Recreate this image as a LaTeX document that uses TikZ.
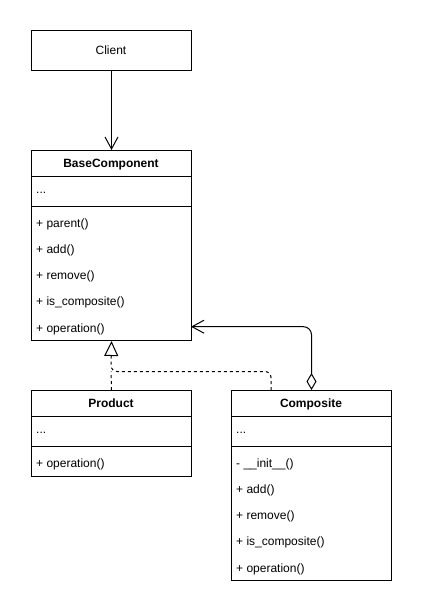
\documentclass[tikz,border=0pt]{standalone}
\usepackage{fontspec}
\setmainfont{Liberation Sans}
\usetikzlibrary{arrows.meta}
\begin{document}
\begin{tikzpicture}[x=1pt,y=-1pt,
  box/.style={draw=black,line width=1pt,minimum width=160pt,inner sep=0pt,anchor=north west},
  lbl/.style={font=\fontsize{12}{14}\selectfont,inner sep=0pt,anchor=base west},
  hdr/.style={font=\fontsize{12}{14}\selectfont\bfseries,inner sep=0pt,anchor=base},
  plain/.style={font=\fontsize{12}{14}\selectfont,inner sep=0pt,anchor=base},
  sep/.style={line width=1pt},
  conn/.style={line width=1pt,line join=round},
  openarrow/.style={-{Straight Barb[length=12pt,width=13pt]}},
  dashline/.style={dash pattern=on 3pt off 3pt},
]
\useasboundingbox (0,0) rectangle (423,614);

% Client
\node[box,minimum height=40pt] (client) at (31,30) {};
\node[plain] (clientt) at (111,54.3) {Client};

% BaseComponent
\node[box,minimum height=190pt] (base) at (31,150) {};
\draw[sep] (31,176) -- (191,176);
\draw[sep] (31,206) -- (191,206);
\node[hdr] (baset) at (111,167.5) {BaseComponent};
\node[lbl] (basea) at (36,193.5) {...};
\node[lbl] (base1) at (36,227) {+ parent()};
\node[lbl] (base2) at (36,253.3) {+ add()};
\node[lbl] (base3) at (36,279.6) {+ remove()};
\node[lbl] (base4) at (36,305.9) {+ is\_composite()};
\node[lbl] (base5) at (36,332.2) {+ operation()};

% Product
\node[box,minimum height=86pt] (prod) at (31,390) {};
\draw[sep] (31,416.7) -- (191,416.7);
\draw[sep] (31,446.5) -- (191,446.5);
\node[hdr] (prodt) at (111,407.5) {Product};
\node[lbl] (proda) at (36,433.8) {...};
\node[lbl] (prod1) at (36,467.5) {+ operation()};

% Composite
\node[box,minimum height=190pt] (comp) at (231,390) {};
\draw[sep] (231,416.7) -- (391,416.7);
\draw[sep] (231,446.5) -- (391,446.5);
\node[hdr] (compt) at (311,407.5) {Composite};
\node[lbl] (compa) at (236,433.8) {...};
\node[lbl] (comp1) at (236,467) {- \_\_init\_\_()};
\node[lbl] (comp2) at (236,493.3) {+ add()};
\node[lbl] (comp3) at (236,519.6) {+ remove()};
\node[lbl] (comp4) at (236,545.9) {+ is\_composite()};
\node[lbl] (comp5) at (236,572.2) {+ operation()};

% connector points
\coordinate (inhA) at (271,390);
\coordinate (inhJ) at (111,371.5);
\coordinate (aggin) at (191,326.7);

% Client -> BaseComponent
\draw[conn,openarrow] (client.south) -- (base.north);

% Realization (dashed with hollow triangle)
\draw[conn,dashline,rounded corners=6pt,-{Triangle[open,length=15pt,width=14pt,fill=white]}]
  (inhA) |- (inhJ) -- (base.south);
\draw[conn,dashline] (prod.north) -- (inhJ);

% Aggregation
\draw[conn,rounded corners=8pt,{Diamond[open,length=17pt,width=10pt,fill=white]}-{Straight Barb[length=12pt,width=13pt]}]
  (comp.north) |- (aggin);
\end{tikzpicture}
\end{document}
